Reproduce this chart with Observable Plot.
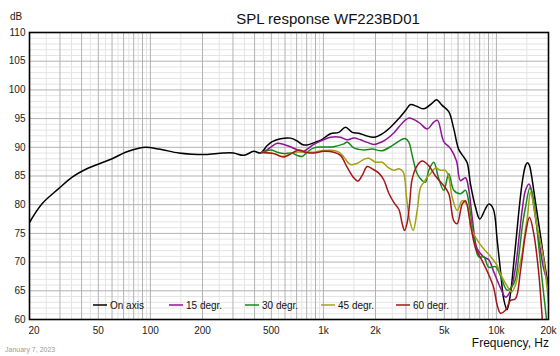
<!DOCTYPE html>
<html><head><meta charset="utf-8">
<script src="https://cdn.jsdelivr.net/npm/d3@7"></script>
<script src="https://cdn.jsdelivr.net/npm/@observablehq/plot@0.6"></script>
<style>
body{margin:0;background:#fff;}
#wrap{position:relative;width:560px;height:356px;overflow:hidden;background:#fff}
#wrap svg{position:absolute;left:0;top:0}
</style></head><body>
<div id="wrap"></div>
<script>
const titleText = "SPL response WF223BD01";
const yUnit = "dB";
const xTitle = "Frequency, Hz";
const dateText = "January 7, 2023";
const seriesNames = ["On axis", "15 degr.", "30 degr.", "45 degr.", "60 degr."];

const onAxisHz = [20,23.7,29.5,35.3,41.2,50.3,60.1,71.8,85.7,93.6,111.8,145.9,174.4,208,264,302,347,396,433,473,506,565,645,705,754,806,900,962,1099,1227,1342,1467,1602,1751,1955,2186,2442,2728,2982,3187,3484,3804,4253,4504,4858,5305,5670,6060,6477,6778,7081,7568,8014,8646,9034,9579,10104,10556,11030,11509,12058,12551,13062,13595,14148,14728,15122,15531,15948,16600,17276,17982,18713,19474,20000];
const onAxisDb = [76.9,80.2,82.8,84.8,86.0,87.1,88.0,89.15,89.85,90.0,89.7,89.0,88.8,88.75,89.0,89.0,88.6,89.3,89.0,90.3,91.0,91.5,91.6,91.1,90.5,90.4,90.9,91.2,92.35,92.6,93.5,92.6,92.45,92.05,91.75,92.35,93.5,95.0,96.4,97.45,97.1,96.7,97.7,98.3,97.3,96.2,93.2,89.6,88.3,87.3,83.6,79.6,77.5,79.3,80.1,79.3,73.8,68.5,63.5,61.7,64.5,69.4,74.6,79.9,84.2,86.8,87.3,86.8,85.1,81.6,78.1,74.6,71.0,67.7,65.9];

const deg15Hz = [443,463,494,541,590,645,705,754,806,880,984,1099,1255,1373,1498,1638,1774,1955,2081,2285,2552,2853,3116,3406,3640,3979,4345,4564,4963,5426,5877,6198,6625,6923,7244,7742,8453,9034,9656,10556,11281,12058,12889,13595,14148,14728,15427,15948,16444,17160,17982,18713,19658,20000];
const deg15Db = [89.1,89.4,90.0,90.7,90.5,90.1,89.55,89.2,89.7,90.5,91.2,91.75,91.75,91.3,91.6,91.3,90.9,90.5,90.7,91.3,92.5,94.2,95.1,94.7,94.1,93.2,94.4,94.7,91.0,89.8,87.6,84.2,84.7,82.6,77.8,72.3,70.9,70.4,68.3,65.5,63.9,65.0,69.1,75.0,79.5,82.5,83.6,82.5,79.6,76.0,72.0,69.0,66.8,66.3];

const deg30Hz = [443,494,541,590,660,705,754,806,880,1005,1148,1312,1378,1498,1712,1913,2186,2498,2853,2982,3116,3260,3484,3724,3890,4065,4345,4644,4963,5305,5670,6198,6625,6923,7399,7908,8453,9034,9876,10556,11540,12336,12889,13468,14148,14728,15635,16444,17208,18393,19220,20000];
const deg30Db = [89.1,89.55,89.15,88.9,89.0,88.6,88.4,89.15,89.9,90.05,90.1,90.6,90.9,89.9,89.55,89.7,89.4,90.3,91.4,91.5,90.9,88.6,85.4,84.2,83.9,86.0,87.4,84.5,82.5,85.4,82.5,81.9,82.5,80.4,74.3,70.9,70.9,69.1,69.2,67.6,65.1,65.8,67.0,71.0,76.5,79.6,83.0,80.7,75.5,66.8,61.6,57.0];

const deg45Hz = [443,517,578,617,674,770,880,1005,1148,1227,1312,1434,1568,1712,1829,2000,2186,2362,2552,2735,2892,3022,3158,3304,3484,3640,3804,3979,4158,4444,4750,5076,5305,5551,5933,6340,6778,7244,8088,9240,10104,10556,11030,11540,12220,12889,13415,14093,14532,15122,15740,16270,16823,17508,18393,19220,20000];
const deg45Db = [89.1,88.9,88.4,88.6,89.15,89.15,89.15,89.45,89.45,89.15,88.3,87.0,87.2,87.9,88.1,87.4,87.4,86.5,86.0,86.25,85.7,81.3,77.2,75.5,79.0,83.0,83.9,84.8,85.4,86.4,86.0,86.0,84.8,81.3,79.0,80.7,79.9,75.5,73.0,71.0,69.4,68.0,66.8,65.8,64.8,66.0,68.5,71.5,74.5,78.0,82.2,80.5,77.8,75.0,72.0,68.0,63.0];

const deg60Hz = [443,517,590,674,720,788,880,1005,1148,1255,1373,1498,1584,1675,1791,1913,2090,2234,2388,2552,2728,2853,2942,3050,3145,3260,3484,3724,4065,4444,4963,5305,5670,5933,6340,6625,7081,7568,8275,9034,9656,10104,10556,11281,12058,12889,13778,14728,15531,16444,17577,18220,18713];
const deg60Db = [89.1,88.9,88.3,89.15,89.55,89.15,89.0,89.3,89.15,88.6,86.5,84.7,84.1,85.1,86.65,86.25,85.5,84.3,82.0,80.4,79.2,76.7,75.5,76.9,80.0,84.5,86.8,87.6,86.8,85.0,83.3,81.9,77.2,76.7,80.1,80.7,76.5,72.5,70.2,67.8,65.5,62.5,61.1,61.6,63.3,63.6,68.5,74.9,77.8,74.9,68.0,62.0,57.0];

const xTickValues = [20,50,100,200,500,1000,2000,5000,10000,20000];
const xTickLabels = ["20","50","100","200","500","1k","2k","5k","10k","20k"];
const yTickValues = [60,65,70,75,80,85,90,95,100,105,110];

// styles
const seriesColors = ["#000000","#8e1496","#16891a","#a2a012","#a3151a"];
const font = "'Liberation Sans', Arial, Helvetica, sans-serif";

// build table
const seriesData = [[onAxisHz,onAxisDb],[deg15Hz,deg15Db],[deg30Hz,deg30Db],[deg45Hz,deg45Db],[deg60Hz,deg60Db]];
const rows = [];
seriesData.forEach(([hz, db], i) => hz.forEach((f, j) => rows.push({series: seriesNames[i], hz: f, db: db[j]})));

// grid values
const majorHz = [], minorHz = [];
for (const dec of [10,100,1000,10000]) {
  for (let k = 1; k <= 9; k++) {
    if (k*dec >= 20 && k*dec <= 20000) majorHz.push(k*dec);
    const m = (k+0.5)*dec;
    if (m > 20 && m < 20000) minorHz.push(m);
  }
}
const majorDb = d3.range(60, 111, 5);
const minorDb = d3.range(60, 111, 1).filter(d => d % 5 !== 0);

const xLab = new Map(xTickValues.map((v,i)=>[v,xTickLabels[i]]));

const chart = Plot.plot({
  width: 560, height: 356,
  marginLeft: 29, marginRight: 12, marginTop: 32, marginBottom: 37,
  style: {fontFamily: font, fontSize: "10px", background: "white", color: "#000"},
  x: {type: "log", domain: [20, 20000], axis: null},
  y: {domain: [60, 110], axis: null},
  color: {domain: seriesNames, range: seriesColors},
  marks: [
    Plot.ruleY(minorDb, {stroke: "#e4e4e4"}),
    Plot.ruleX(minorHz, {stroke: "#e4e4e4"}),
    Plot.ruleY(majorDb, {stroke: "#b2b2b2"}),
    Plot.ruleX(majorHz, {stroke: "#b2b2b2"}),
    Plot.line(rows, {x: "hz", y: "db", z: "series", stroke: "series", strokeWidth: 1.5, curve: "catmull-rom", clip: true}),
    Plot.frame({stroke: "#000", strokeWidth: 1.6}),
    Plot.text(yTickValues, {y: d => d, text: d => String(d), frameAnchor: "left", textAnchor: "end", dx: -4, fontSize: 10, fill: "#222"}),
    Plot.text(xTickValues.slice(0, 1), {x: d => d, text: d => xLab.get(d), frameAnchor: "bottom", lineAnchor: "top", textAnchor: "start", dx: -1, dy: 7, fontSize: 10, fill: "#222"}),
    Plot.text(xTickValues.slice(1), {x: d => d, text: d => xLab.get(d), frameAnchor: "bottom", lineAnchor: "top", dy: 7, fontSize: 10, fill: "#222"})
  ]
});
const wrap = document.getElementById("wrap");
wrap.appendChild(chart);

// overlay texts and legend
const ov = d3.select(wrap).append("svg").attr("width", 560).attr("height", 356)
  .style("font-family", font).style("pointer-events", "none");
ov.append("text").attr("x", 328).attr("y", 24).attr("text-anchor", "middle").attr("font-size", 15).attr("fill", "#111").text(titleText);
ov.append("text").attr("x", 10).attr("y", 20).attr("font-size", 10).attr("fill", "#222").text(yUnit);
ov.append("text").attr("x", 549).attr("y", 347).attr("text-anchor", "end").attr("font-size", 12).attr("fill", "#111").text(xTitle);
ov.append("text").attr("x", 5).attr("y", 352).attr("font-size", 7).attr("fill", "#9a9a9a").text(dateText);

const legendX = [93, 169, 245, 321, 396];
const legendY = 305;
seriesNames.forEach((name, i) => {
  const g = ov.append("g").attr("transform", `translate(${legendX[i]},${legendY})`);
  g.append("line").attr("x1", 0).attr("x2", 14).attr("y1", 0).attr("y2", 0).attr("stroke", seriesColors[i]).attr("stroke-width", 1.5);
  g.append("text").attr("x", 17).attr("y", 3.6).attr("font-size", 10).attr("fill", "#111").text(name);
});
</script>
</body></html>
